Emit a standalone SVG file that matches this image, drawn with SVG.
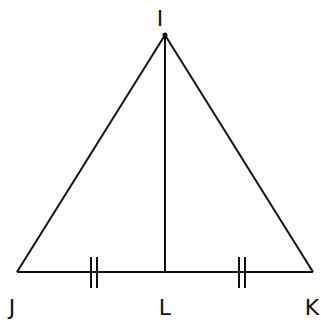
<svg xmlns="http://www.w3.org/2000/svg" width="321" height="322" viewBox="0 0 321 322">
<style>
.ln{stroke:#111;stroke-width:2;fill:none;stroke-linecap:butt}
.tk{stroke:#111;stroke-width:2;fill:none}
.lb{font-family:"DejaVu Sans",Verdana,sans-serif;font-size:22px;fill:#111;text-anchor:middle}
</style>
<rect width="321" height="322" fill="#fff"/>
<g id="connectors">
<line class="ln" x1="165" y1="35" x2="17" y2="272"/>
<line class="ln" x1="165" y1="35" x2="313" y2="272"/>
<line class="ln" x1="165" y1="35" x2="165" y2="272"/>
<line class="ln" x1="17" y1="272" x2="313" y2="272"/>
<line class="tk" x1="91" y1="257" x2="91" y2="288"/>
<line class="tk" x1="97" y1="257" x2="97" y2="288"/>
<line class="tk" x1="239" y1="257" x2="239" y2="288"/>
<line class="tk" x1="245" y1="257" x2="245" y2="288"/>
</g>
<g id="I"><circle cx="165" cy="35" r="2.5" fill="#111"/><text class="lb" x="160" y="26">I</text></g>
<g id="J"><text class="lb" x="12" y="315">J</text></g>
<g id="L"><text class="lb" x="165" y="315">L</text></g>
<g id="K"><text class="lb" x="312" y="315">K</text></g>
</svg>
